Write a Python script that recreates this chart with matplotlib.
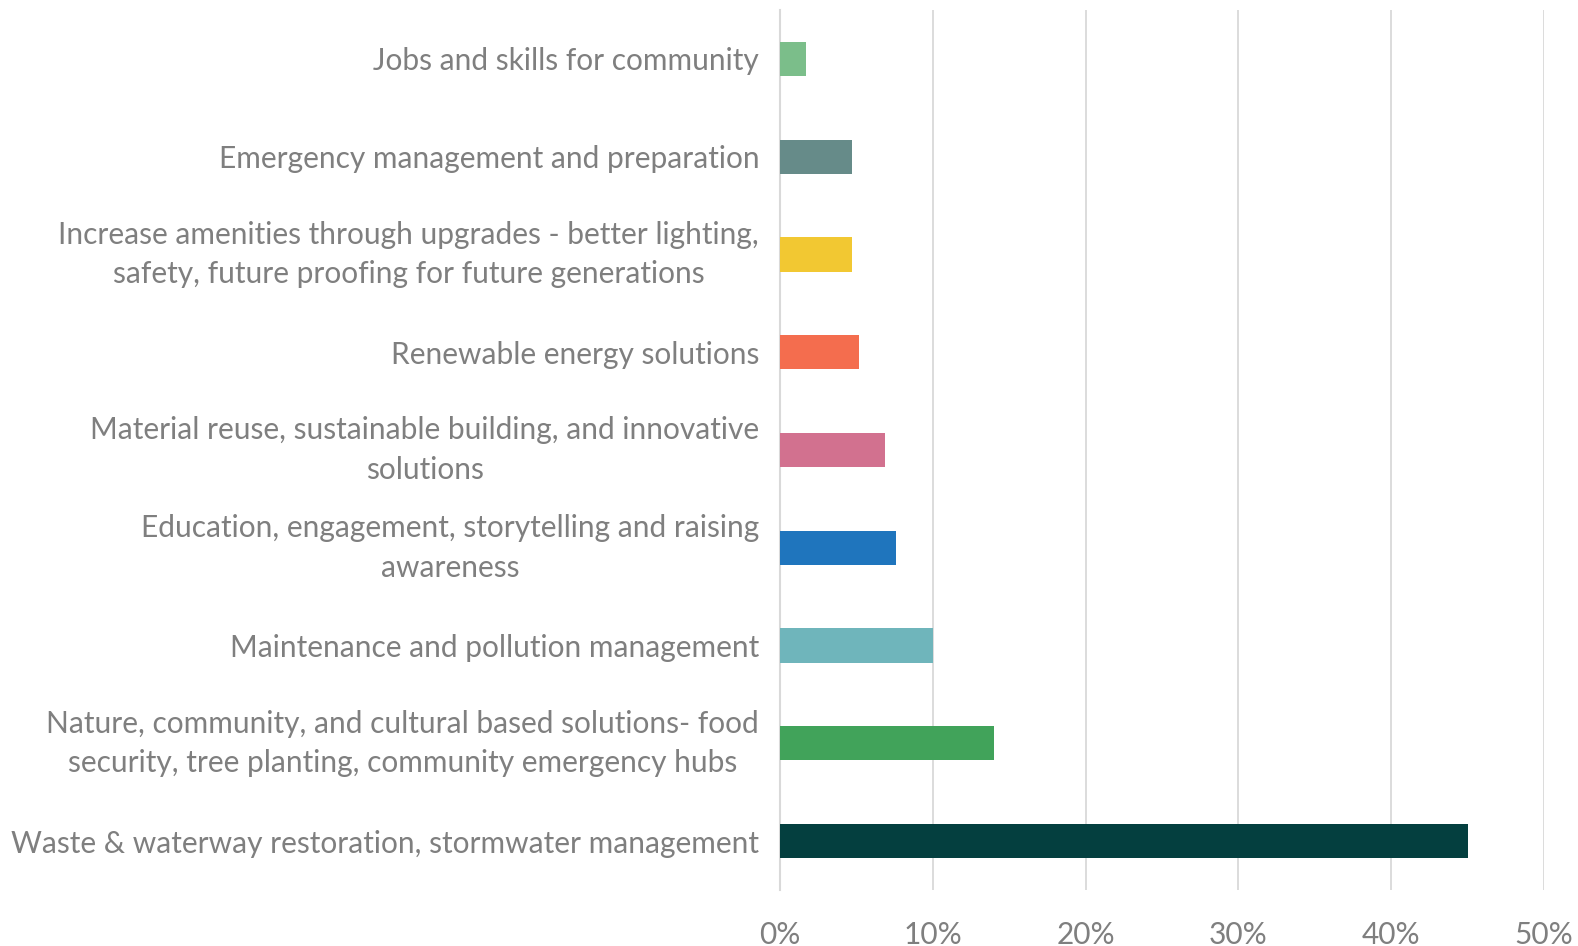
import numpy as np
import matplotlib.pyplot as plt
from matplotlib.ticker import PercentFormatter

# Categories from bottom to top
categories = [
    'Waste & waterway restoration, stormwater management',
    'Nature, community, and cultural based solutions- food\nsecurity, tree planting, community emergency hubs',
    'Maintenance and pollution management',
    'Education, engagement, storytelling and raising\nawareness',
    'Material reuse, sustainable building, and innovative\nsolutions',
    'Renewable energy solutions',
    'Increase amenities through upgrades - better lighting,\nsafety, future proofing for future generations',
    'Emergency management and preparation',
    'Jobs and skills for community',
]
shares = [45.0, 14.0, 10.0, 7.6, 6.9, 5.2, 4.7, 4.7, 1.7]
colors = ['#043F3F', '#41A35A', '#6FB5BB', '#1F75BD', '#D2718F',
          '#F46D4E', '#F2C832', '#668B89', '#7BBE8A']
x_ticks = [0, 10, 20, 30, 40, 50]

plt.rcParams['font.family'] = ['Lato', 'DejaVu Sans']
text_color = '#7F7F7F'

fig = plt.figure(figsize=(15.78, 9.46), dpi=100)
ax = fig.add_axes([0.4943, 0.0592, 0.4842, 0.9302])

y = np.arange(len(categories))
ax.barh(y, shares, height=0.35, color=colors, zorder=3)

ax.set_xlim(0, 50)
ax.set_ylim(-0.5, len(categories) - 0.5)
ax.set_xticks(x_ticks)
ax.xaxis.set_major_formatter(PercentFormatter(decimals=0))
ax.set_yticks(y)
ax.set_yticklabels(categories)
for lbl in ax.get_yticklabels():
    lbl.set_multialignment('center')
    lbl.set_linespacing(1.5)
    if '\n' in lbl.get_text():
        lbl.set_verticalalignment('center')

ax.tick_params(axis='y', length=0, pad=15, labelsize=21.5, labelcolor=text_color)
ax.tick_params(axis='x', length=0, pad=22, labelsize=21.5, labelcolor=text_color)

ax.grid(axis='x', color='#D9D9D9', linewidth=1.3, zorder=0)
for side in ['top', 'right', 'bottom']:
    ax.spines[side].set_visible(False)
ax.spines['left'].set_color('#D9D9D9')
ax.spines['left'].set_linewidth(1.5)

fig.savefig('out.png', dpi=100, facecolor='white')
